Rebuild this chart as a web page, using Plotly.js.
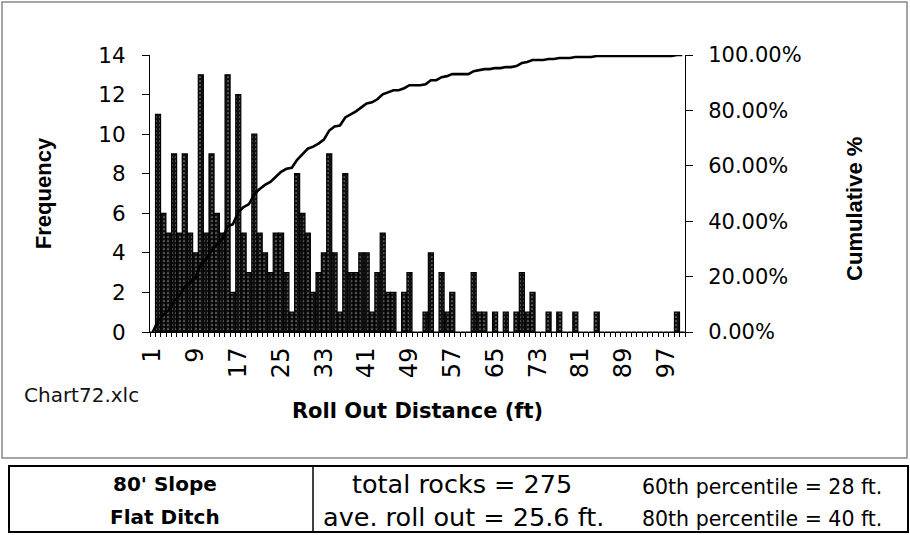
<!DOCTYPE html>
<html>
<head>
<meta charset="utf-8">
<script src="https://cdn.plot.ly/plotly-3.0.1.min.js"></script>
<style>
html,body{margin:0;padding:0;background:#fff;}
#chart{width:910px;height:535px;}
</style>
</head>
<body>
<div id="chart"></div>
<script>
// Roll out distance categories (ft)
const distance = [1,2,3,4,5,6,7,8,9,10,11,12,13,14,15,16,17,18,19,20,
  21,22,23,24,25,26,27,28,29,30,31,32,33,34,35,36,37,38,39,40,
  41,42,43,44,45,46,47,48,49,50,51,52,53,54,55,56,57,58,59,60,
  61,62,63,64,65,66,67,68,69,70,71,72,73,74,75,76,77,78,79,80,
  81,82,83,84,85,86,87,88,89,90,91,92,93,94,95,96,97,98,99,100];
// Frequency of rocks per distance bin
const frequency = [0,11,6,5,9,5,9,5,4,13,5,9,6,5,13,2,12,5,3,10,
  5,4,3,5,5,3,1,8,6,5,2,3,4,9,4,1,8,3,3,4,
  4,1,3,5,2,2,0,2,3,0,0,1,4,0,3,1,2,0,0,0,
  3,1,1,0,1,0,1,0,1,3,1,2,0,0,1,0,1,0,0,1,
  0,0,0,1,0,0,0,0,0,0,0,0,0,0,0,0,0,0,1,0];
// x tick labels shown on the axis
const xTickLabels = [1,9,17,25,33,41,49,57,65,73,81,89,97];
// Table texts
const tableLeft = ["80' Slope", "Flat Ditch"];
const tableMid = ["total rocks = 275", "ave. roll out = 25.6 ft."];
const tableRight = ["60th percentile = 28 ft.", "80th percentile = 40 ft."];

// cumulative percentage from the frequency table
const totalRocks = frequency.reduce((a, b) => a + b, 0);
const cumulative = [];
let run = 0;
for (const f of frequency) { run += f; cumulative.push(run / totalRocks); }

// pixel -> paper helpers (plot area 150..685 x 55..332)
const L = 150, R = 685, T = 55, B = 332;
const px = v => (v - L) / (R - L);
const py = v => (B - v) / (B - T);

const F = "DejaVu Sans, Liberation Sans, Arial, sans-serif";
const FA = "Liberation Sans, Arial, sans-serif";

const bars = {
  type: 'bar', x: distance, y: frequency, name: 'Frequency',
  marker: {
    color: '#111',
    line: {color: '#000', width: 1.2},
    pattern: {shape: '.', fgcolor: '#8a8a8a', bgcolor: '#111', size: 4, solidity: 0.15}
  },
  hoverinfo: 'x+y'
};
const line = {
  type: 'scatter', mode: 'lines', x: distance, y: cumulative, yaxis: 'y2', name: 'Cumulative %',
  line: {color: '#000', width: 2.6, shape: 'linear'}
};

const annotations = [
  {text: 'Chart72.xlc', x: px(22), y: py(395), xanchor: 'left', yanchor: 'middle', font: {family: F, size: 20, color: '#111'}},
  {text: '<b>' + tableLeft[0] + '</b>', x: px(165), y: py(484), xanchor: 'center', yanchor: 'middle', font: {family: F, size: 20, color: '#000'}},
  {text: '<b>' + tableLeft[1] + '</b>', x: px(165), y: py(517), xanchor: 'center', yanchor: 'middle', font: {family: F, size: 20, color: '#000'}},
  {text: tableMid[0], x: px(462), y: py(484), xanchor: 'center', yanchor: 'middle', font: {family: F, size: 25.5, color: '#000'}},
  {text: tableMid[1], x: px(321), y: py(517), xanchor: 'left', yanchor: 'middle', font: {family: F, size: 25.5, color: '#000'}},
  {text: tableRight[0], x: px(640), y: py(487), xanchor: 'left', yanchor: 'middle', font: {family: F, size: 20.5, color: '#000'}},
  {text: tableRight[1], x: px(640), y: py(519), xanchor: 'left', yanchor: 'middle', font: {family: F, size: 20.5, color: '#000'}}
].map(a => Object.assign({xref: 'paper', yref: 'paper', showarrow: false}, a));

const shapes = [
  // outer chart frame
  {type: 'rect', x0: px(2), x1: px(907), y0: py(2), y1: py(458), line: {color: '#888', width: 1.5}},
  // table box
  {type: 'rect', x0: px(9), x1: px(908), y0: py(466), y1: py(532), line: {color: '#000', width: 2}},
  {type: 'line', x0: px(313), x1: px(313), y0: py(466), y1: py(532), line: {color: '#000', width: 1.5}}
].map(s => Object.assign({xref: 'paper', yref: 'paper'}, s));

const layout = {
  width: 910, height: 535,
  margin: {l: 150, r: 225, t: 55, b: 203},
  paper_bgcolor: '#fff', plot_bgcolor: '#fff',
  showlegend: false,
  bargap: 0.06,
  font: {family: F, color: '#000'},
  xaxis: {
    type: 'linear', range: [0.5, 100.5],
    tickmode: 'array', tickvals: xTickLabels, ticktext: xTickLabels.map(String),
    ticks: '', tickangle: -90, tickfont: {family: F, size: 24},
    ticklabelstandoff: 5,
    minor: {tickmode: 'linear', tick0: 0.5, dtick: 1, ticks: 'outside', ticklen: 4, tickcolor: '#000', tickwidth: 1, showgrid: false},
    showline: true, linecolor: '#000', linewidth: 1, showgrid: false, zeroline: false,
    title: {text: '<b>Roll Out Distance (ft)</b>', font: {family: F, size: 21}, standoff: 26}
  },
  xaxis2: {
    overlaying: 'x', anchor: 'y', side: 'bottom', range: [0.5, 100.5], layer: 'below traces',
    showticklabels: false, ticks: '',
    minor: {tickmode: 'linear', tick0: 0.5, dtick: 1, ticks: 'inside', ticklen: 5, tickcolor: '#000', tickwidth: 1, showgrid: false},
    showline: false, showgrid: false, zeroline: false
  },
  yaxis: {
    range: [0, 14], dtick: 2, tick0: 0,
    ticks: 'outside', ticklen: 7, tickcolor: '#000', tickwidth: 1,
    tickfont: {family: F, size: 21.5}, ticklabelstandoff: 12,
    showline: true, linecolor: '#000', linewidth: 1, showgrid: false, zeroline: false,
    title: {text: '<b>Frequency</b>', font: {family: FA, size: 22}, standoff: 40}
  },
  yaxis3: {
    overlaying: 'y', anchor: 'x', side: 'left', range: [0, 14], dtick: 2, tick0: 0,
    ticks: 'inside', ticklen: 7, tickcolor: '#000', tickwidth: 1,
    showticklabels: false, showline: false, showgrid: false, zeroline: false
  },
  yaxis2: {
    overlaying: 'y', anchor: 'x', side: 'right', range: [0, 1], dtick: 0.2, tick0: 0,
    tickformat: '.2%',
    ticks: 'outside', ticklen: 7, tickcolor: '#000', tickwidth: 1,
    tickfont: {family: F, size: 21}, ticklabelstandoff: 11,
    showline: true, linecolor: '#000', linewidth: 1, showgrid: false, zeroline: false,
    title: {text: '<b>Cumulative %</b>&nbsp;&nbsp;&nbsp;&nbsp;&nbsp;', font: {family: FA, size: 22}, standoff: 45}
  },
  yaxis4: {
    overlaying: 'y', anchor: 'x', side: 'right', range: [0, 1], dtick: 0.2, tick0: 0,
    ticks: 'inside', ticklen: 7, tickcolor: '#000', tickwidth: 1,
    showticklabels: false, showline: false, showgrid: false, zeroline: false
  },
  annotations: annotations,
  shapes: shapes
};

Plotly.newPlot('chart', [bars, line], layout, {displayModeBar: false, staticPlot: true});
</script>
</body>
</html>
